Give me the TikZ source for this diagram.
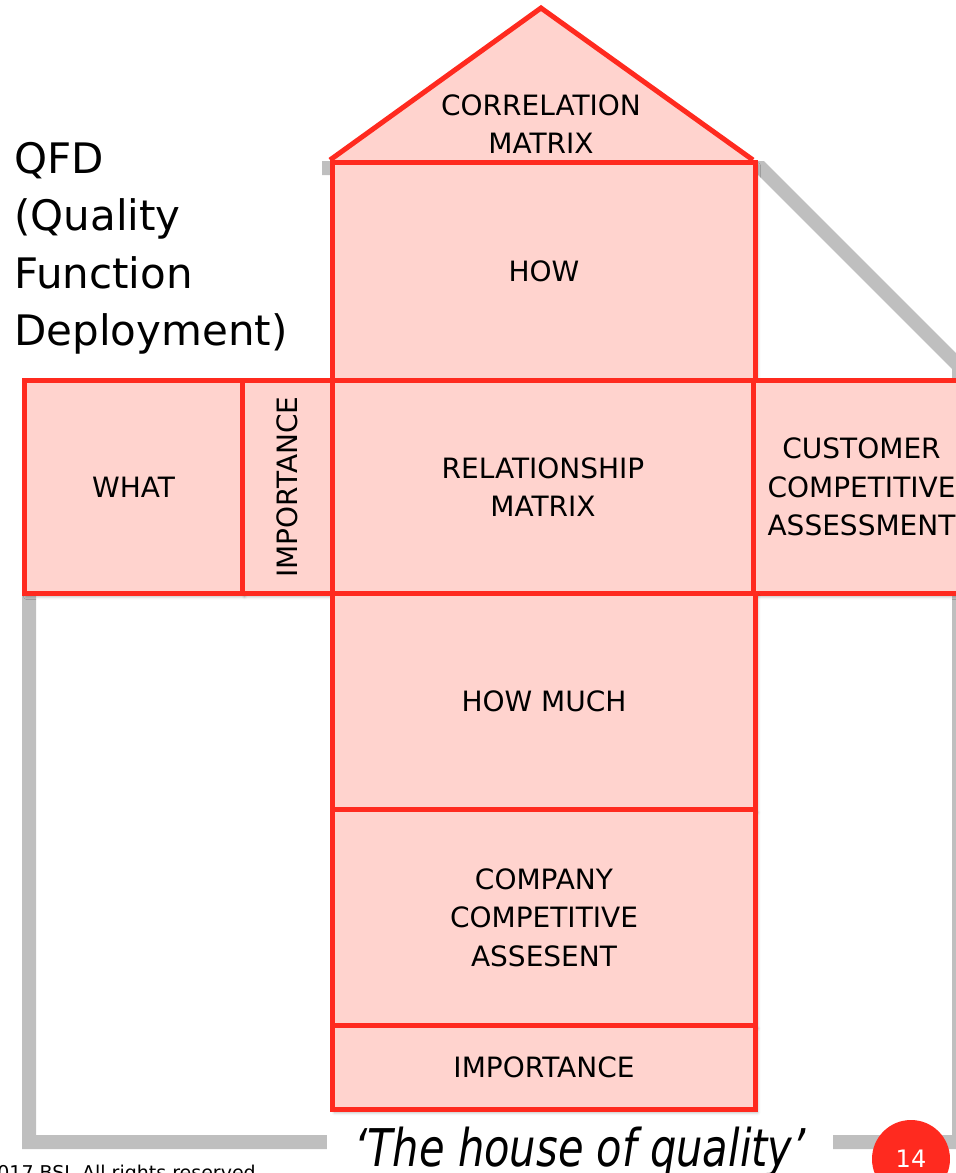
\documentclass[tikz,border=0pt]{standalone}
\usepackage{fontspec}
\setmainfont{DejaVu Sans}
\usetikzlibrary{shadows.blur}
\definecolor{qred}{HTML}{FF2A1F}
\definecolor{qpink}{HTML}{FFD3CE}
\definecolor{qgray}{HTML}{BFBFBF}
\newcommand\qlbl{\fontsize{28}{38.5}\selectfont}
\begin{document}
\begin{tikzpicture}[x=1pt,y=-1pt,
  box/.style={draw=qred, fill=qpink, line width=5pt, inner sep=0pt, anchor=north west,
    align=center, font=\qlbl,
    blur shadow={shadow xshift=2pt, shadow yshift=-3pt, shadow blur radius=3pt, shadow opacity=30}},
  frame/.style={draw=qgray, line width=14pt, line join=miter}]
\useasboundingbox (0,0) rectangle (956,1173);
% grey house outline behind
\draw[frame] (322,168) -- (761,168) -- (959,366) -- (959,1142) -- (29,1142) -- (29,386) -- (200,386);
% roof
\fill[qpink] (330,160) -- (541,8) -- (753,160) -- cycle;
\draw[qred, line width=5pt, line join=miter] (330,160) -- (541,8) -- (753,160);
\node[align=center, font=\qlbl] (corr) at (541,124) {CORRELATION\\MATRIX};
% boxes
\node[box, minimum width=423pt, minimum height=218pt] (how) at (330,160) {HOW};
\node[box, minimum width=218pt, minimum height=213pt] (what) at (22,378) {WHAT};
\node[box, minimum width=90pt, minimum height=213pt] (impv) at (240,378) {};
\node[font=\qlbl, rotate=90] (impvt) at (impv.center) {IMPORTANCE};
\node[box, minimum width=421pt, minimum height=213pt] (rel) at (330,378) {RELATIONSHIP\\MATRIX};
\node[box, minimum width=216pt, minimum height=213pt] (cust) at (751,378) {CUSTOMER\\COMPETITIVE\\ASSESSMENT};
\node[box, minimum width=423pt, minimum height=216pt] (much) at (330,591) {HOW MUCH};
\node[box, minimum width=423pt, minimum height=216pt] (comp) at (330,807) {COMPANY\\COMPETITIVE\\ASSESENT};
\node[box, minimum width=423pt, minimum height=84pt] (imph) at (330,1023) {IMPORTANCE};
% title
\node[anchor=north west, align=left, inner sep=0pt, font=\fontsize{42}{57.5}\selectfont] (qfd) at (14,142)
  {QFD\\(Quality\\Function\\Deployment)};
% caption
\node[anchor=base, fill=white, inner xsep=27pt, font=\fontsize{52}{52}\selectfont\itshape] (cap) at (580,1166)
  {\scalebox{0.8}[1]{‘The house of quality’}};
% page number
\node[circle, fill=qred, minimum size=78pt, inner sep=0pt, text=white, font=\fontsize{24}{24}\selectfont] (pg) at (911,1159) {14};
% footer
\node[anchor=north east, inner sep=0pt, font=\fontsize{19}{19}\selectfont] (foot) at (256,1165) {© 2017 BSI. All rights reserved};
\end{tikzpicture}
\end{document}
